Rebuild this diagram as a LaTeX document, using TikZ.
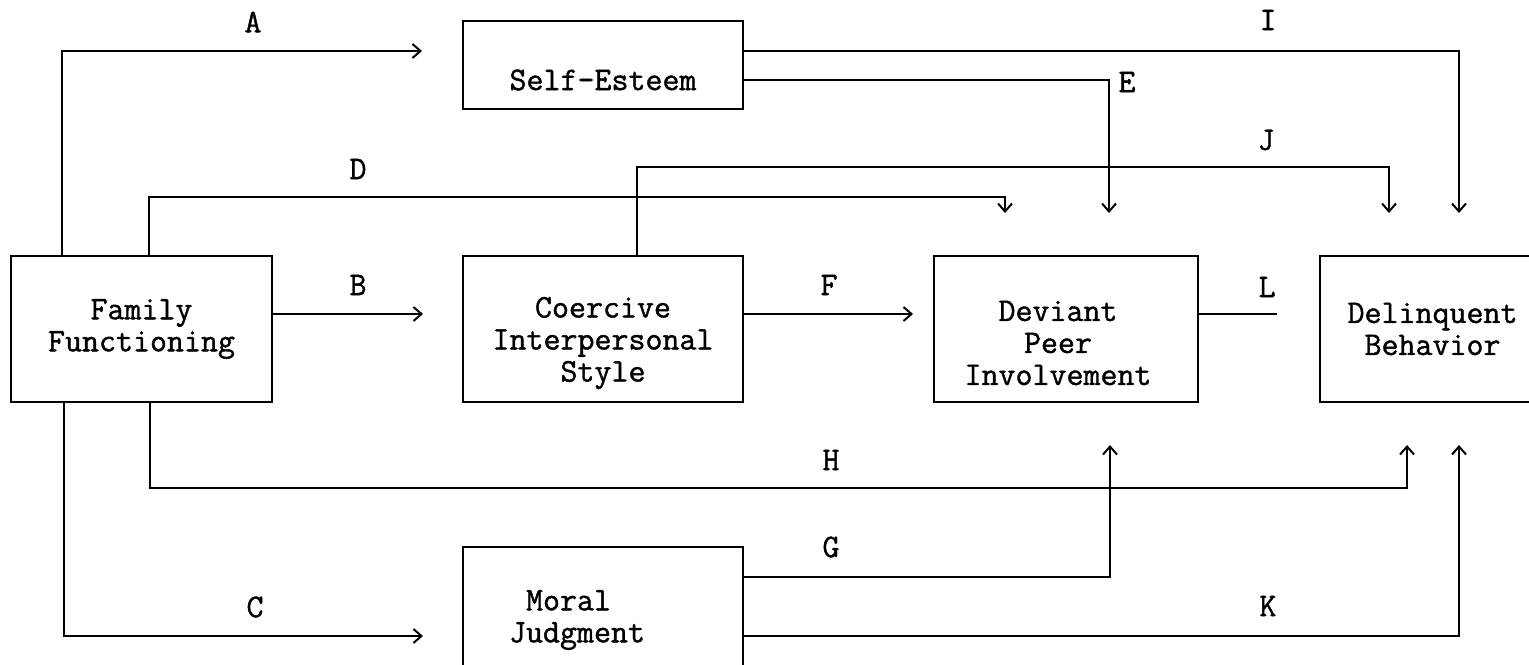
\documentclass[tikz,border=0pt]{standalone}
\usepackage{fontspec}
\newfontfamily\diagfont{Latin Modern Mono}[FakeBold=1.2]
\usetikzlibrary{arrows.meta}
\begin{document}
\begin{tikzpicture}[x=0.5pt,y=-0.5pt]
	\tikzstyle{every node}=[font=\diagfont\fontsize{16.5}{16}\selectfont]
	\tikzstyle{box}=[rectangle,draw,line width=1.2pt,align=center,inner sep=0pt]
	\tikzstyle{conn}=[line width=1pt,-{Straight Barb[length=4pt,width=7pt]}]
	\useasboundingbox (0,0) rectangle (1529,664);

	\node[box,minimum width=130.5pt,minimum height=73pt] (ff) at (141.5,329) {Family\\Functioning};
	\node[box,minimum width=140pt,minimum height=44pt,label={[yshift=-7.5pt]center:Self-Esteem}] (se) at (603,65) {};
	\node[box,minimum width=140pt,minimum height=73pt,label={[align=center,yshift=-7pt]center:{Coercive\\Interpersonal\\Style}}] (cis) at (603,329) {};
	\node[box,minimum width=132pt,minimum height=73pt,label={[align=center,xshift=-4pt,yshift=-7pt]center:{Deviant\\Peer\\Involvement}}] (dpi) at (1066,329) {};
	\node[box,minimum width=112.5pt,minimum height=73pt] (db) at (1432.5,329) {Delinquent\\Behavior};
	\node[box,minimum width=140pt,minimum height=73pt,label={[align=left,xshift=-13pt]center:{\hphantom{J}Moral\\Judgment}}] (mj) at (603,620) {};

	\coordinate (tipA) at (422,51);
	\coordinate (tipB) at (423,314);
	\coordinate (tipC) at (423,636);
	\coordinate (tipD) at (1005,213);
	\coordinate (tipE) at (1109,213);
	\coordinate (tipF) at (913,314);
	\coordinate (tipG) at (1110,445);
	\coordinate (tipH) at (1407,445);
	\coordinate (tipI) at (1459,213);
	\coordinate (tipJ) at (1389,213);
	\coordinate (tipK) at (1459,445);
	\coordinate (endL) at (1277,314);

	\draw[conn] (ff.north -| 62,0) |- (tipA);
	\draw[conn] (ff.east |- tipB) -- (tipB);
	\draw[conn] (ff.south -| 64,0) |- (tipC);
	\draw[conn] (ff.north -| 149,0) -- (149,197) -| (tipD);
	\draw[conn] (se.east |- 0,80) -| (tipE);
	\draw[conn] (cis.east |- tipF) -- (tipF);
	\draw[conn] (mj.east |- 0,577) -| (tipG);
	\draw[conn] (ff.south -| 150,0) -- (150,488) -| (tipH);
	\draw[conn] (se.east |- tipA) -| (tipI);
	\draw[conn] (cis.north -| 637,0) -- (637,167) -| (tipJ);
	\draw[conn] (mj.east |- tipC) -| (tipK);
	\draw[line width=1pt] (dpi.east |- endL) -- (endL);

	\node (lblA) at (253,22) {A};
	\node (lblB) at (358,285) {B};
	\node (lblC) at (255,607) {C};
	\node (lblD) at (358,169) {D};
	\node (lblE) at (1127,82) {E};
	\node (lblF) at (829,285) {F};
	\node (lblG) at (831,547) {G};
	\node (lblH) at (831,460) {H};
	\node (lblI) at (1268,20) {I};
	\node (lblJ) at (1266,140) {J};
	\node (lblK) at (1268,606) {K};
	\node (lblL) at (1267,287) {L};
\end{tikzpicture}
\end{document}
